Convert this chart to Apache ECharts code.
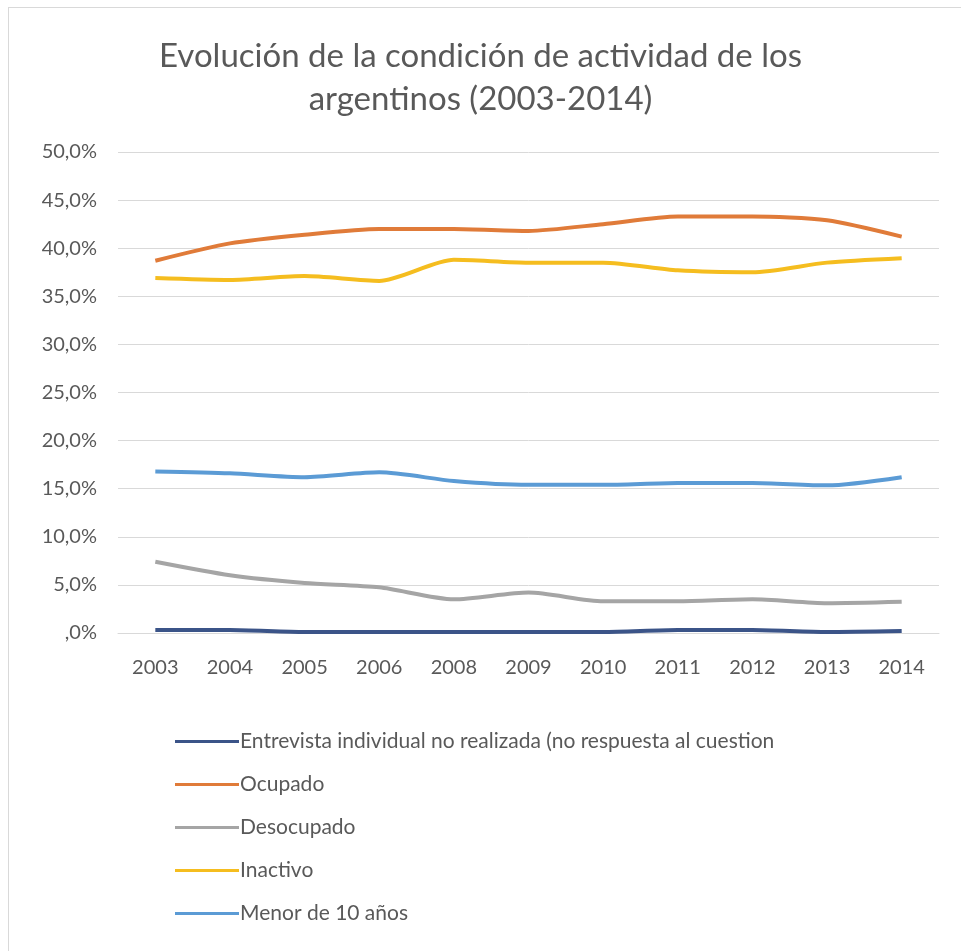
<!DOCTYPE html>
<html>
<head>
<meta charset="utf-8">
<script src="https://cdn.jsdelivr.net/npm/echarts@6/dist/echarts.min.js"></script>
<style>
  html, body { margin: 0; padding: 0; background: #fff; }
  #frame { position: absolute; left: 8px; top: 7px; width: 980px; height: 1000px; border: 1px solid #d9d9d9; box-sizing: border-box; }
  #chart { position: absolute; left: 0; top: 0; width: 961px; height: 951px; }
</style>
</head>
<body>
<div id="frame"></div>
<div id="chart"></div>
<script>
// Años de la encuesta (no hay 2007)
const years = ['2003', '2004', '2005', '2006', '2008', '2009', '2010', '2011', '2012', '2013', '2014'];

// Porcentajes por condición de actividad
const entrevista = [0.3, 0.3, 0.1, 0.1, 0.1, 0.1, 0.1, 0.3, 0.3, 0.1, 0.2];
const ocupado    = [38.7, 40.5, 41.4, 42.0, 42.0, 41.8, 42.5, 43.3, 43.3, 42.9, 41.2];
const desocupado = [7.4, 6.0, 5.2, 4.75, 3.5, 4.2, 3.3, 3.3, 3.5, 3.1, 3.25];
const inactivo   = [36.9, 36.7, 37.1, 36.6, 38.8, 38.5, 38.5, 37.7, 37.5, 38.5, 38.95];
const menor10    = [16.8, 16.6, 16.2, 16.7, 15.8, 15.4, 15.4, 15.6, 15.6, 15.35, 16.2];

const seriesNames = [
  'Entrevista individual no realizada (no respuesta al cuestion',
  'Ocupado',
  'Desocupado',
  'Inactivo',
  'Menor de 10 años'
];

// Marcas del eje vertical
const yTicks = [0, 5, 10, 15, 20, 25, 30, 35, 40, 45, 50];

const colors = ['#3b5488', '#e07b39', '#a5a5a5', '#f5bd1f', '#5b9bd5'];
const FONT = 'Lato';

function pct(v) {
  return v === 0 ? ',0%' : v.toFixed(1).replace('.', ',') + '%';
}

const chart = echarts.init(document.getElementById('chart'));
const values = [entrevista, ocupado, desocupado, inactivo, menor10];

chart.setOption({
  animation: false,
  color: colors,
  title: {
    text: 'Evolución de la condición de actividad de los\nargentinos (2003-2014)',
    left: 'center',
    top: 30,
    textStyle: { fontFamily: FONT, fontSize: 33, fontWeight: 'normal', color: '#595959', lineHeight: 43 }
  },
  grid: { left: 118, right: 22, top: 152, height: 481 },
  legend: {
    orient: 'vertical',
    left: 170,
    top: 726,
    itemWidth: 64,
    itemHeight: 3,
    itemGap: 22,
    icon: 'rect',
    textStyle: { fontFamily: FONT, fontSize: 21, color: '#595959', padding: [0, 0, 0, -4] },
    data: seriesNames
  },
  xAxis: {
    type: 'category',
    data: years,
    boundaryGap: true,
    axisLine: { show: true, lineStyle: { color: '#d9d9d9', width: 1 } },
    axisTick: { show: false },
    axisLabel: { fontFamily: FONT, fontSize: 20, color: '#595959', margin: 25 }
  },
  yAxis: {
    type: 'value',
    min: yTicks[0],
    max: yTicks[yTicks.length - 1],
    interval: yTicks[1] - yTicks[0],
    axisLine: { show: false },
    axisTick: { show: false },
    splitLine: { lineStyle: { color: '#d9d9d9', width: 1 } },
    axisLabel: { fontFamily: FONT, fontSize: 20, color: '#595959', margin: 21, formatter: pct }
  },
  series: seriesNames.map((name, i) => ({
    name: name,
    type: 'line',
    data: values[i],
    smooth: 0.25,
    symbol: 'none',
    lineStyle: { width: 4, color: colors[i] },
    z: i === 0 ? 5 : 3
  }))
});
</script>
</body>
</html>
